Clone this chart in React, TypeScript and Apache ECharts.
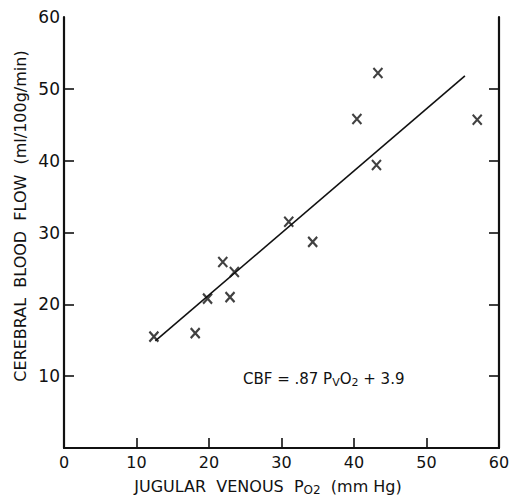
import React, { useEffect, useRef } from "react";
import * as echarts from "echarts";

const xTicks = [0, 10, 20, 30, 40, 50, 60];
const yTicks = [10, 20, 30, 40, 50, 60];
const innerTicks = [10, 20, 30, 40, 50];
const pvo2 = [12.4, 18.1, 19.8, 22.9, 21.9, 23.5, 31.0, 34.3, 40.4, 43.1, 43.3, 57.0];
const cbf = [15.5, 16.0, 20.8, 21.0, 25.9, 24.5, 31.5, 28.7, 45.8, 39.4, 52.2, 45.7];
const fitX = [12.6, 55.3];
const fitY = [14.9, 51.8];

const FONT = "DejaVu Sans";

export default function App() {
  const ref = useRef<HTMLDivElement>(null);
  useEffect(() => {
    if (!ref.current) return;
    const chart = echarts.init(ref.current, null, { renderer: "svg" });
    const axisCommon = {
      type: "value",
      min: 0,
      max: 60,
      interval: 10,
      splitLine: { show: false },
      axisLine: { show: true, onZero: false, lineStyle: { color: "#111", width: 2.2 } },
      axisTick: {
        show: true,
        inside: true,
        length: 10,
        customValues: innerTicks,
        lineStyle: { color: "#111", width: 1.6 },
      },
    };
    chart.setOption({
      animation: false,
      backgroundColor: "#fff",
      grid: { left: 64, right: 16, top: 17, bottom: 48, containLabel: false, outerBoundsMode: "none" },
      xAxis: {
        ...axisCommon,
        position: "bottom",
        axisLabel: {
          show: true,
          margin: 6,
          fontFamily: FONT,
          fontSize: 16,
          color: "#111",
          customValues: xTicks,
        },
      },
      yAxis: [
        {
          ...axisCommon,
          position: "left",
          axisLabel: {
            show: true,
            margin: 4,
            fontFamily: FONT,
            fontSize: 17,
            color: "#111",
            customValues: yTicks,
          },
        },
        {
          ...axisCommon,
          position: "right",
          axisLabel: { show: false },
        },
      ],
      series: [
        {
          type: "line",
          data: fitX.map((x, i) => [x, fitY[i]]),
          symbol: "none",
          lineStyle: { color: "#111", width: 1.6 },
          yAxisIndex: 0,
        },
        {
          type: "scatter",
          data: pvo2.map((x, i) => [x, cbf[i]]),
          symbol: "path://M0 0L10 11M10 0L0 11",
          symbolSize: [9, 10],
          itemStyle: { color: "rgba(0,0,0,0)", borderColor: "#111", borderWidth: 2.2 },
          yAxisIndex: 0,
        },
      ],
      graphic: [
        {
          type: "text",
          x: 20,
          y: 216,
          rotation: Math.PI / 2,
          style: {
            text: "CEREBRAL  BLOOD  FLOW  (ml/100g/min)",
            fontFamily: FONT,
            fontSize: 16,
            fill: "#111",
            align: "center",
            verticalAlign: "middle",
          },
        },
        {
          type: "text",
          x: 268,
          y: 486,
          style: {
            text: "{a|JUGULAR  VENOUS  P}{s|O2}{a|  (mm Hg)}",
            align: "center",
            verticalAlign: "middle",
            rich: {
              a: { fontFamily: FONT, fontSize: 16, fill: "#111", color: "#111" },
              s: { fontFamily: FONT, fontSize: 12, fill: "#111", color: "#111", padding: [8, 0, 0, 0] },
            },
          },
        },
        {
          type: "text",
          x: 243,
          y: 379,
          style: {
            text: "{a|CBF = .87 P}{s|V}{a|O}{s|2}{a| + 3.9}",
            align: "left",
            verticalAlign: "middle",
            rich: {
              a: { fontFamily: FONT, fontSize: 15, fill: "#111", color: "#111" },
              s: { fontFamily: FONT, fontSize: 11, fill: "#111", color: "#111", padding: [7, 0, 0, 0] },
            },
          },
        },
      ],
    });
    return () => chart.dispose();
  }, []);
  return (
    <div
      ref={ref}
      style={{ position: "fixed", left: 0, top: 0, width: 515, height: 496 }}
    />
  );
}
